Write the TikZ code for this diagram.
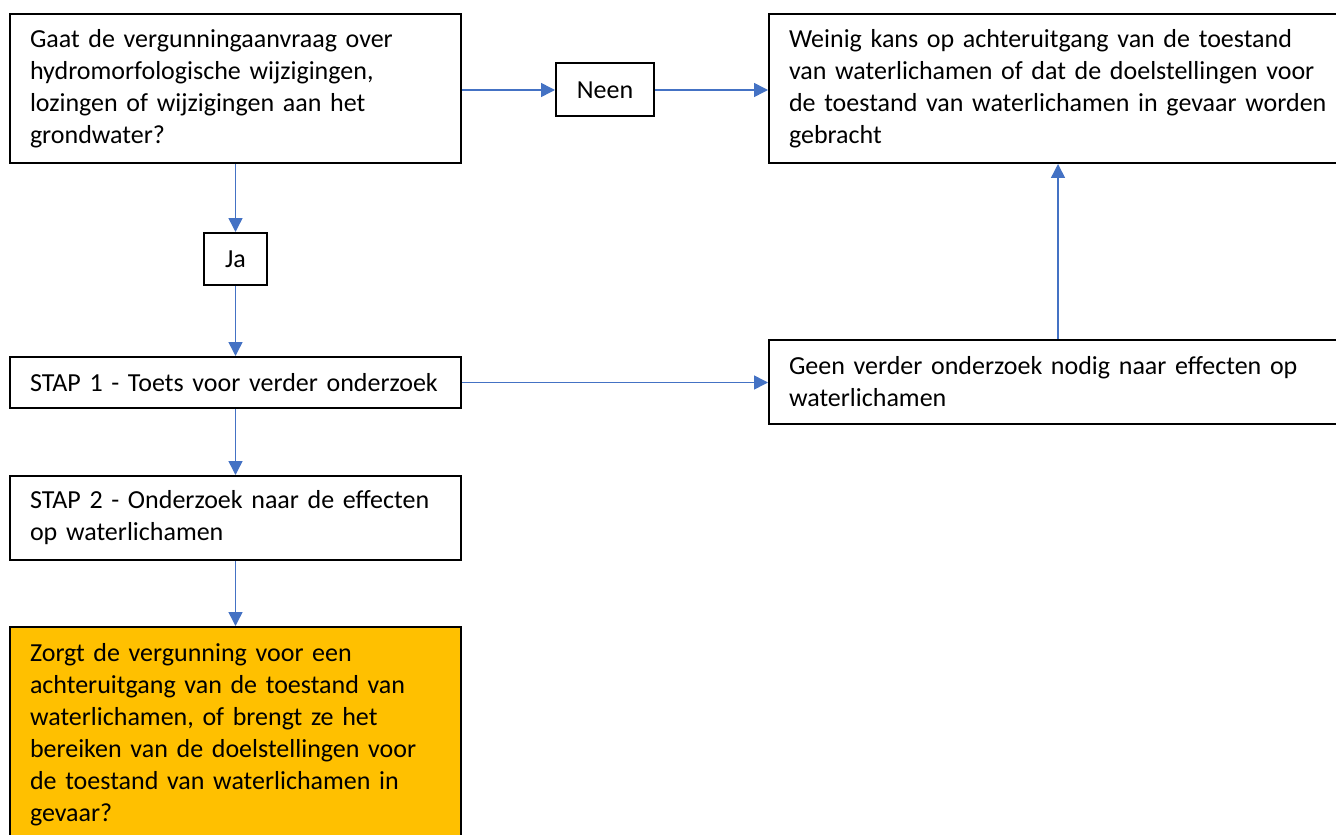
\documentclass[tikz,border=0pt]{standalone}
\usepackage{fontspec}
\setmainfont{Carlito}
\usepackage{tikz}
\usepackage{xcolor}
\usetikzlibrary{arrows.meta}

\definecolor{pijlblauw}{HTML}{4472C4}
\definecolor{oranje}{HTML}{FFC000}

\begin{document}
\begin{tikzpicture}[x=0.5pt, y=-0.5pt,
    every node/.style={font=\fontsize{13}{16}\selectfont},
    blok/.style={draw, line width=1pt, anchor=north west, align=left,
                 inner xsep=10pt, inner ysep=0pt, text width=#1},
    keuze/.style={draw, line width=1pt, align=center, inner sep=0pt},
    pijl/.style={draw=pijlblauw, line width=0.75pt,
                 -{Triangle[length=7pt,width=7pt]}, fill=pijlblauw}]
    \clip (0,0) rectangle (1336,834);
    % Vraag
    \node[blok=205.5pt, minimum height=74.5pt] (Q) at (9,13)
        {Gaat de vergunningaanvraag over\\ hydromorfologische wijzigingen,\\
         lozingen of wijzigingen aan het\\ grondwater?};
    % Antwoorden
    \node[keuze, minimum width=49pt, minimum height=26.5pt] (Ne) at (605,90) {Neen};
    \node[keuze, minimum width=31.5pt, minimum height=26pt] (Ja) at (Q.south |- 0,259) {Ja};
    % Rechts
    \node[blok=269pt, minimum height=74.5pt] (R1) at (768,13)
        {Weinig kans op achteruitgang van de toestand\\
         van waterlichamen of dat de doelstellingen voor\\
         de toestand van waterlichamen in gevaar worden\\ gebracht};
    \node[blok=269pt, minimum height=42pt] (R2) at (768,339)
        {Geen verder onderzoek nodig naar effecten op\\ waterlichamen};
    % Stappen
    \node[blok=205.5pt, minimum height=25.5pt] (S1) at (9,356)
        {STAP 1 - Toets voor verder onderzoek};
    \node[blok=205.5pt, minimum height=42pt] (S2) at (9,475)
        {STAP 2 - Onderzoek naar de effecten\\ op waterlichamen};
    \node[blok=205.5pt, minimum height=108pt, fill=oranje] (Z) at (9,626)
        {Zorgt de vergunning voor een\\ achteruitgang van de toestand van\\
         waterlichamen, of brengt ze het\\ bereiken van de doelstellingen voor\\
         de toestand van waterlichamen in\\ gevaar?};
    % Pijlen
    \draw[pijl] (Q.east |- Ne) -- (Ne.west);
    \draw[pijl] (Ne.east) -- (R1.west |- Ne);
    \draw[pijl] (Q.south) -- (Ja.north);
    \draw[pijl] (Ja.south) -- (S1.north);
    \draw[pijl] (S1.east) -- (R2.west |- S1.east);
    \draw[pijl] (R2.north) -- (R1.south);
    \draw[pijl] (S1.south) -- (S2.north);
    \draw[pijl] (S2.south) -- (Z.north);
\end{tikzpicture}
\end{document}
